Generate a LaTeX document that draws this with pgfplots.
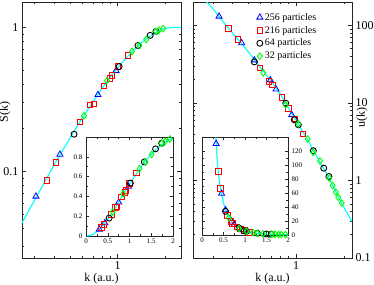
\documentclass[border=0pt]{standalone}
\usepackage{fontspec}
\setmainfont{Liberation Serif}
\usepackage{pgfplots}
\usepackage{pgfplotstable}
\pgfplotsset{compat=1.18}
\definecolor{cy}{RGB}{0,255,255}
\definecolor{gr}{RGB}{0,255,0}
\definecolor{bl}{RGB}{0,0,255}
\definecolor{rd}{RGB}{255,0,0}

% ---- S(k) data ----
\pgfplotstableread{
k S
0.306 0.067
0.433 0.131
0.751 0.340
0.975 0.500
}\Sblue
\pgfplotstableread{
k S
0.359 0.0865
0.409 0.1156
0.579 0.220
0.669 0.290
0.709 0.294
0.820 0.393
0.894 0.440
0.920 0.462
1.000 0.534
1.160 0.637
}\Sred
\pgfplotstableread{
k S
0.531 0.181
1.02 0.534
1.34 0.748
1.60 0.880
1.74 0.937
}\Sblack
\pgfplotstableread{
k S
0.614 0.243
0.855 0.426
1.23 0.680
1.37 0.748
1.51 0.824
1.74 0.937
1.82 0.955
1.93 0.980
}\Sgreen
\pgfplotstableread{
k S
0.02 0.00028
0.05 0.00175
0.10 0.007
0.15 0.0158
0.20 0.028
0.25 0.044
0.30 0.063
0.35 0.086
0.40 0.112
0.50 0.170
0.60 0.235
0.70 0.305
0.80 0.380
0.90 0.455
1.00 0.525
1.10 0.590
1.20 0.655
1.30 0.720
1.40 0.775
1.50 0.825
1.60 0.870
1.70 0.910
1.80 0.945
1.90 0.970
2.00 0.985
2.20 0.998
2.50 1.000
}\Scurve

% ---- u(k) data ----
\pgfplotstableread{
k u
0.328 130.5
0.455 59.3
0.547 35.6
0.690 19.7
0.749 15.0
0.940 7.02
}\Ublue
\pgfplotstableread{
k u
0.377 90.7
0.430 66.2
0.593 28.4
0.676 19.1
0.713 17.0
0.813 11.7
0.894 8.55
0.985 6.24
1.107 4.00
}\Ured
\pgfplotstableread{
k u
0.547 33.8
0.862 9.9
0.975 6.06
1.034 5.22
1.285 2.42
1.494 1.44
1.610 1.125
}\Ublack
\pgfplotstableread{
k u
0.623 24.5
0.862 9.43
1.034 5.38
1.185 3.42
1.285 2.30
1.415 1.78
1.620 1.07
1.700 0.863
1.780 0.708
1.845 0.605
1.940 0.512
}\Ugreen
\pgfplotstableread{
k u
0.25 248
0.27 208
0.30 164
0.35 110
0.40 79
0.45 59.8
0.50 46
0.55 35.4
0.60 28.3
0.70 19.0
0.80 12.8
0.90 8.5
1.00 6.0
1.10 4.3
1.20 3.2
1.30 2.34
1.40 1.79
1.50 1.40
1.60 1.11
1.70 0.865
1.80 0.68
1.90 0.55
2.00 0.45
2.10 0.376
2.25 0.296
}\Ucurve

\pgfplotsset{
  base/.style={scale only axis,
    /pgf/number format/assume math mode=true,
    tick label style={font=\fontsize{12}{14}\selectfont},
    label style={font=\fontsize{12}{14}\selectfont},
    axis line style={black!85, line width=0.6pt},
    tick style={black!85, line width=0.5pt},
    major tick length=4pt, minor tick length=2.5pt},
  inset/.style={base, axis background/.style={fill=white},
    tick label style={font=\fontsize{7}{8}\selectfont},
    major tick length=3pt, minor tick length=1.8pt,
    xmin=0, xmax=2, xtick={0,0.5,1,1.5,2},
    xticklabels={0,0.5,1,1.5,2}, minor x tick num=1,
    xticklabel style={yshift=1pt}},
  crv/.style={cy, line width=1.1pt, no marks},
  pb/.style={only marks, bl, mark=triangle, mark size=3.5pt, mark options={line width=0.8pt, fill=none}},
  pr/.style={only marks, rd, mark=square, mark size=2.8pt, mark options={line width=0.8pt, fill=none}},
  pk/.style={only marks, black, mark=o, mark size=3.0pt, mark options={line width=0.9pt, fill=none}},
  pg/.style={only marks, gr, mark=diamond, mark size=3.3pt, mark options={line width=0.9pt, fill=none}},
}

\begin{document}
\begin{tikzpicture}
\useasboundingbox (0pt,0pt) rectangle (374pt,284pt);

% ---------- left main ----------
\begin{axis}[base, at={(22pt,26pt)}, anchor=south west,
  width=159pt, height=256pt,
  xmode=log, ymode=log, log ticks with fixed point,
  xmin=0.25, xmax=2.5, ymin=0.025, ymax=1.5,
  xtick={1}, xticklabels={1},
  minor xtick={0.3,0.4,0.5,0.6,0.7,0.8,0.9,2},
  ytick={0.1,1}, yticklabels={0.1,1},
  minor ytick={0.03,0.04,0.05,0.06,0.07,0.08,0.09,0.2,0.3,0.4,0.5,0.6,0.7,0.8,0.9},
  xlabel={k (a.u.)}, ylabel={S(k)},
  xlabel style={yshift=3pt},
  ylabel style={at={(axis description cs:-0.107,0.57)}, anchor=center},
]
\addplot[crv] table[x=k,y=S] {\Scurve};
\addplot[pb] table[x=k,y=S] {\Sblue};
\addplot[pr] table[x=k,y=S] {\Sred};
\addplot[pk] table[x=k,y=S] {\Sblack};
\addplot[pg] table[x=k,y=S] {\Sgreen};
\end{axis}

% ---------- left inset ----------
\begin{axis}[inset, at={(86pt,48pt)}, anchor=south west,
  width=87pt, height=99pt,
  ymin=0, ymax=1, ytick={0,0.2,0.4,0.6,0.8},
  yticklabels={0,0.2,0.4,0.6,0.8}, minor y tick num=1,
]
\addplot[crv] table[x=k,y=S] {\Scurve};
\addplot[pb] table[x=k,y=S] {\Sblue};
\addplot[pr] table[x=k,y=S] {\Sred};
\addplot[pk] table[x=k,y=S] {\Sblack};
\addplot[pg] table[x=k,y=S] {\Sgreen};
\end{axis}

% ---------- right main ----------
\begin{axis}[base, at={(193pt,26pt)}, anchor=south west,
  width=159pt, height=256pt,
  xmode=log, ymode=log, log ticks with fixed point,
  xmin=0.225, xmax=2.25, ymin=0.1, ymax=200,
  xtick={1}, xticklabels={1},
  minor xtick={0.3,0.4,0.5,0.6,0.7,0.8,0.9,2},
  ytick={0.1,1,10,100}, yticklabels={0.1,1,10,100},
  minor ytick={0.2,0.3,0.4,0.5,0.6,0.7,0.8,0.9,2,3,4,5,6,7,8,9,20,30,40,50,60,70,80,90},
  yticklabel pos=right,
  xlabel={k (a.u.)}, ylabel={u(k)},
  xlabel style={yshift=3pt},
  ylabel style={at={(axis description cs:1.063,0.547)}, anchor=center},
  legend style={at={(rel axis cs:0.4,0.965)}, anchor=north west,
    draw=none, fill=none, font=\fontsize{10}{12}\selectfont,
    row sep=0.5pt, inner sep=0pt},
  legend cell align=left,
]
\addplot[crv, forget plot] table[x=k,y=u] {\Ucurve};
\addplot[pb] table[x=k,y=u] {\Ublue};
\addlegendentry{256 particles}
\addplot[pr] table[x=k,y=u] {\Ured};
\addlegendentry{216 particles}
\addplot[pk] table[x=k,y=u] {\Ublack};
\addlegendentry{64 particles}
\addplot[pg] table[x=k,y=u] {\Ugreen};
\addlegendentry{32 particles}
\end{axis}

% ---------- right inset ----------
\begin{axis}[inset, at={(202pt,49pt)}, anchor=south west,
  width=86pt, height=98pt,
  ymin=0, ymax=140, ytick={0,20,40,60,80,100,120},
  yticklabels={0,20,40,60,80,100,120}, minor y tick num=1,
  yticklabel pos=right,
]
\addplot[crv] table[x=k,y=u] {\Ucurve};
\addplot[pb] table[x=k,y=u] {\Ublue};
\addplot[pr] table[x=k,y=u] {\Ured};
\addplot[pk] table[x=k,y=u] {\Ublack};
\addplot[pg] table[x=k,y=u] {\Ugreen};
\end{axis}
\end{tikzpicture}
\end{document}
